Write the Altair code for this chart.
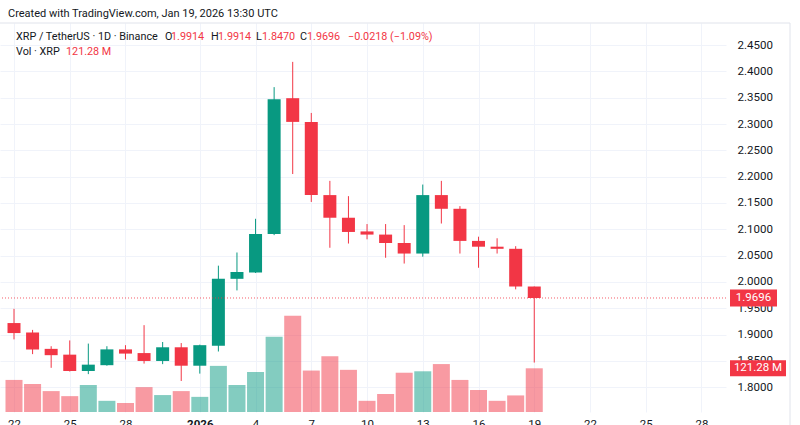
import altair as alt
import pandas as pd

# ---------------- data ----------------
dates = pd.date_range("2025-12-22", "2026-01-19", freq="D").strftime("%Y-%m-%d").tolist()
opens = [1.922, 1.904, 1.873, 1.862, 1.831, 1.842, 1.872, 1.865, 1.850, 1.876,
         1.841, 1.879, 2.006, 2.018, 2.091, 2.349, 2.304, 2.165, 2.122, 2.096,
         2.090, 2.074, 2.054, 2.165, 2.139, 2.078, 2.067, 2.063, 1.9914]
highs = [1.949, 1.909, 1.878, 1.889, 1.883, 1.878, 1.880, 1.918, 1.886, 1.884,
         1.881, 2.031, 2.056, 2.120, 2.370, 2.418, 2.321, 2.192, 2.163, 2.110,
         2.110, 2.108, 2.185, 2.192, 2.144, 2.086, 2.083, 2.068, 1.9914]
lows = [1.891, 1.863, 1.837, 1.830, 1.825, 1.841, 1.853, 1.845, 1.844, 1.812,
        1.826, 1.868, 1.984, 2.017, 2.089, 2.205, 2.152, 2.065, 2.073, 2.081,
        2.046, 2.035, 2.048, 2.111, 2.054, 2.027, 2.054, 1.986, 1.8470]
closes = [1.903, 1.872, 1.861, 1.831, 1.843, 1.872, 1.864, 1.850, 1.876, 1.841,
          1.880, 2.006, 2.019, 2.091, 2.347, 2.304, 2.165, 2.122, 2.095, 2.090,
          2.074, 2.054, 2.165, 2.139, 2.078, 2.067, 2.063, 1.9914, 1.9696]
volumes_m = [89, 78, 58, 44, 75, 31, 25, 69, 47, 58,
             42, 128, 75, 111, 209, 267, 115, 155, 117, 31,
             50, 109, 113, 133, 89, 61, 31, 46, 121.28]

price_ticks = [1.80, 1.85, 1.90, 1.95, 2.00, 2.05, 2.10, 2.15, 2.20, 2.25, 2.30, 2.35, 2.40, 2.45]
date_ticks = [(2025, 12, 22), (2025, 12, 25), (2025, 12, 28), (2026, 1, 1), (2026, 1, 4),
              (2026, 1, 7), (2026, 1, 10), (2026, 1, 13), (2026, 1, 16), (2026, 1, 19),
              (2026, 1, 22), (2026, 1, 25), (2026, 1, 28)]

header_text = "Created with TradingView.com, Jan 19, 2026 13:30 UTC"
symbol_text = "XRP / TetherUS · 1D · Binance"
last_vol_text = "121.28 M"

# ---------------- styling ----------------
FONT = "Roboto"
UP = "#089981"
DOWN = "#f23645"
TEXT = "#131722"
GRID = "#f0f3fa"

df = pd.DataFrame({"date": dates, "open": opens, "high": highs, "low": lows,
                   "close": closes, "vol": volumes_m})
df["dir"] = ["up" if c >= o else "down" for o, c in zip(opens, closes)]

W, H = 726, 389
xscale = alt.Scale(type="utc", nice=False, padding=0,
                   domain=[alt.DateTime(year=2025, month=12, date=21, hours=5, minutes=55, utc=True),
                           alt.DateTime(year=2026, month=1, date=29, hours=7, minutes=40, utc=True)])
yscale = alt.Scale(domain=[1.7531, 2.4918], zero=False, nice=False, padding=0)
vscale = alt.Scale(domain=[0, 1079.6], nice=False, padding=0)
cscale = alt.Scale(domain=["up", "down"], range=[UP, DOWN])

is2026 = "utcdate(datum.value) == 1 && utcmonth(datum.value) == 0"
xaxis = alt.Axis(
    values=[alt.DateTime(year=y, month=m, date=d, utc=True) for y, m, d in date_ticks],
    labelExpr=f"{is2026} ? '2026' : '' + utcdate(datum.value)",
    labelFontWeight={"condition": {"test": is2026, "value": "bold"}, "value": "normal"},
    title=None, grid=True, gridColor=GRID, domain=False, ticks=False,
    labelPadding=6, labelFont=FONT, labelFontSize=11.5, labelColor=TEXT,
    labelFlush=False, labelOverlap=False,
)
X = alt.X("date:T", scale=xscale, axis=xaxis)

yaxis = alt.Axis(values=price_ticks, format=".4f", orient="right", title=None,
                 grid=True, gridColor=GRID, domain=False, ticks=False,
                 labelAlign="left", labelPadding=11, labelFont=FONT, labelFontSize=11.5,
                 labelColor=TEXT, labelBaseline="middle")

base = alt.Chart(df)

vol_bars = base.mark_bar(size=17, opacity=0.5).encode(
    x=X,
    y=alt.Y("vol:Q", scale=vscale, axis=None),
    color=alt.Color("dir:N", scale=cscale, legend=None),
)
last_vol = pd.DataFrame({"vol": [volumes_m[-1]], "t": [last_vol_text]})
vol_tag = alt.Chart(last_vol).mark_rule(strokeWidth=16, color=DOWN, strokeCap="butt").encode(
    x=alt.value(730), x2=alt.value(786), y=alt.Y("vol:Q", scale=vscale, axis=None))
vol_tag_text = alt.Chart(last_vol).mark_text(color="white", font=FONT, fontSize=11.5,
                                             align="center", baseline="middle").encode(
    x=alt.value(758), y=alt.Y("vol:Q", scale=vscale, axis=None), text="t:N")
vol_layer = alt.layer(vol_bars, vol_tag, vol_tag_text)

wicks = base.mark_rule(strokeWidth=1).encode(
    x=X,
    y=alt.Y("low:Q", scale=yscale, axis=yaxis),
    y2="high:Q",
    color=alt.Color("dir:N", scale=cscale, legend=None),
)
bodies = base.mark_bar(size=13).encode(
    x=X,
    y=alt.Y("open:Q", scale=yscale, axis=yaxis),
    y2="close:Q",
    color=alt.Color("dir:N", scale=cscale, legend=None),
)
last_px = pd.DataFrame({"c": [closes[-1]], "t": [f"{closes[-1]:.4f}"]})
last_line = alt.Chart(last_px).mark_rule(strokeDash=[1, 2], color=DOWN, opacity=0.8, strokeWidth=1).encode(
    y=alt.Y("c:Q", scale=yscale, axis=yaxis))
px_tag = alt.Chart(last_px).mark_rule(strokeWidth=17, color=DOWN, strokeCap="butt").encode(
    x=alt.value(730), x2=alt.value(777), y=alt.Y("c:Q", scale=yscale, axis=yaxis))
px_tag_text = alt.Chart(last_px).mark_text(color="white", font=FONT, fontSize=11.5,
                                           align="center", baseline="middle").encode(
    x=alt.value(753.5), y=alt.Y("c:Q", scale=yscale, axis=yaxis), text="t:N")
price_layer = alt.layer(wicks, bodies, last_line, px_tag, px_tag_text)


def label(text, x, y, color=TEXT, size=10.8):
    return alt.Chart(pd.DataFrame({"t": [text]})).mark_text(
        align="left", baseline="middle", font=FONT, fontSize=size, color=color
    ).encode(x=alt.value(x), y=alt.value(y), text="t:N")


o, h, l, c = opens[-1], highs[-1], lows[-1], closes[-1]
chg = c - closes[-2]
pct = chg / closes[-2] * 100
texts = [
    label(header_text, 8, -9, TEXT, 11),
    label(symbol_text, 16, 14),
    label("O", 165, 14), label(f"{o:.4f}", 171, 14, DOWN),
    label("H", 211, 14), label(f"{h:.4f}", 218, 14, DOWN),
    label("L", 256, 14), label(f"{l:.4f}", 262, 14, DOWN),
    label("C", 300, 14), label(f"{c:.4f}", 307, 14, DOWN),
    label(f"\u2212{abs(chg):.4f} (\u2212{abs(pct):.2f}%)", 348, 14, DOWN),
    label("Vol · XRP", 16, 29), label(last_vol_text, 66, 29, DOWN),
]

frame = pd.DataFrame({"k": [0]})
top_border = alt.Chart(frame).mark_rule(color="#e0e3eb", strokeWidth=1).encode(
    x=alt.value(0), x2=alt.value(790), y=alt.value(0))
right_border = alt.Chart(frame).mark_rule(color="#e0e3eb", strokeWidth=1).encode(
    x=alt.value(790), y=alt.value(0), y2=alt.value(H + 13))

chart = alt.layer(vol_layer, price_layer, top_border, right_border, *texts).resolve_scale(
    y="independent"
).properties(
    width=W, height=H, autosize="none",
    padding={"left": 0, "right": 800 - W, "top": 23, "bottom": 425 - 23 - H},
    background="white",
).configure_view(stroke=None)

chart.save("out.html", embed_options={"renderer": "svg", "actions": False})
